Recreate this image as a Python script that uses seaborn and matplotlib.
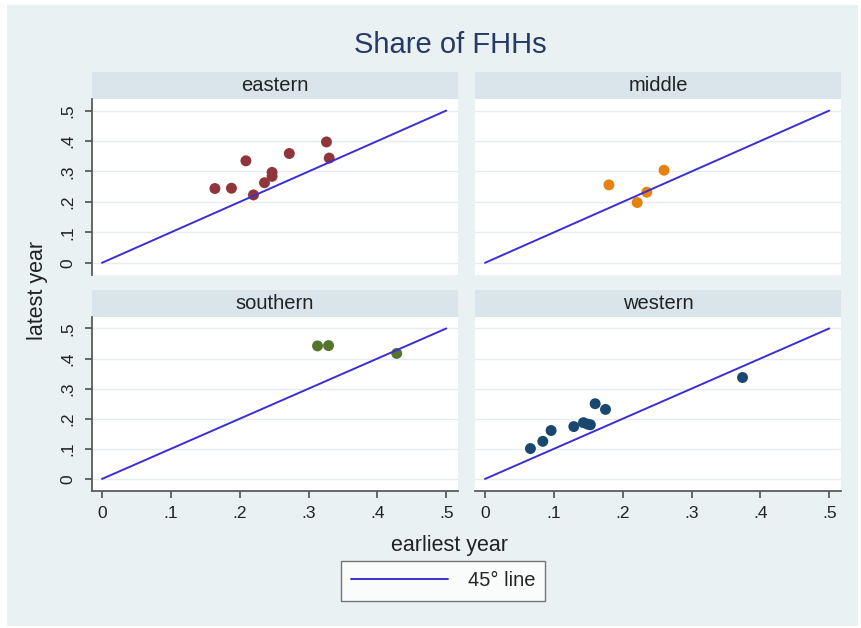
import numpy as np
import pandas as pd
import matplotlib
matplotlib.use("Agg")
import matplotlib.pyplot as plt
from matplotlib.patches import Rectangle
from matplotlib.lines import Line2D
import seaborn as sns

# Share of female-headed households, earliest vs latest survey year
regions = ["eastern", "middle", "southern", "western"]
eastern_x = [0.164, 0.188, 0.209, 0.220, 0.236, 0.247, 0.247, 0.272, 0.326, 0.330]
eastern_y = [0.244, 0.245, 0.335, 0.223, 0.263, 0.297, 0.284, 0.359, 0.397, 0.344]
middle_x = [0.180, 0.260, 0.235, 0.221]
middle_y = [0.256, 0.304, 0.232, 0.198]
southern_x = [0.313, 0.329, 0.428]
southern_y = [0.442, 0.443, 0.417]
western_x = [0.066, 0.084, 0.096, 0.129, 0.143, 0.149, 0.153, 0.160, 0.175, 0.374]
western_y = [0.101, 0.125, 0.161, 0.174, 0.187, 0.182, 0.180, 0.250, 0.231, 0.337]
line_ends = [0.0, 0.5]
tick_vals = [0, 0.1, 0.2, 0.3, 0.4, 0.5]
tick_labels = ["0", ".1", ".2", ".3", ".4", ".5"]

region_colors = {"eastern": "#90353B", "middle": "#E8820F",
                 "southern": "#55752F", "western": "#1A476F"}
line_color = "#3A2FD2"
bg = "#EAF1F3"
strip_bg = "#D9E5EA"
text_color = "#222222"

xs = {"eastern": eastern_x, "middle": middle_x, "southern": southern_x, "western": western_x}
ys = {"eastern": eastern_y, "middle": middle_y, "southern": southern_y, "western": western_y}
df = pd.concat([pd.DataFrame({"region": r, "earliest": xs[r], "latest": ys[r]}) for r in regions],
               ignore_index=True)

sns.set_theme(style="white")
plt.rcParams["font.family"] = ["Liberation Sans", "DejaVu Sans"]

g = sns.FacetGrid(df, col="region", col_order=regions, col_wrap=2, hue="region",
                  palette=region_colors, sharex=False, sharey=False)
g.map_dataframe(sns.scatterplot, x="earliest", y="latest", s=62, edgecolor="none", legend=False)
fig = g.figure
fig.set_size_inches(8.61, 6.28)
fig.set_dpi(100)
fig.patch.set_facecolor("white")

W, H = 861, 628
# tinted backdrop inside a thin white margin
fig.patches.append(Rectangle((7 / W, 2 / H), (858 - 7) / W, (623 - 2) / H,
                             transform=fig.transFigure, facecolor=bg, edgecolor="none", zorder=-10))

boxes = {"eastern": (92, 99, 458, 275), "middle": (475, 99, 841, 275),
         "southern": (92, 317, 458, 491), "western": (475, 317, 841, 491)}

for ax, r in zip(g.axes.flat, regions):
    x0, y0, x1, y1 = boxes[r]
    ax.set_position([x0 / W, (H - y1) / H, (x1 - x0) / W, (y1 - y0) / H])
    ax.set_facecolor("white")
    sns.lineplot(x=line_ends, y=line_ends, ax=ax, color=line_color, linewidth=1.4, legend=False)
    if ax.get_legend() is not None:
        ax.get_legend().remove()
    ax.set_xlim(-0.0145, 0.517)
    ax.set_ylim(-0.04, 0.538)
    ax.set_title("")
    ax.set_xlabel("")
    ax.set_ylabel("")
    ax.set_yticks(tick_vals)
    ax.set_xticks(tick_vals)
    for yv in tick_vals:
        ax.axhline(yv, color="#E6EDF0", linewidth=1.0, zorder=0)
    for s in ax.spines.values():
        s.set_visible(False)
    left = r in ("eastern", "southern")
    bottom = r in ("southern", "western")
    if left:
        ax.spines["left"].set_visible(True)
        ax.spines["left"].set_color("#555555")
        ax.set_yticklabels(tick_labels, rotation=90, va="center", fontsize=12.5, color=text_color)
        ax.tick_params(axis="y", left=True, length=5, color="#555555", pad=7)
    else:
        ax.set_yticklabels([])
        ax.tick_params(axis="y", left=False, length=0)
    if bottom:
        ax.spines["bottom"].set_visible(True)
        ax.spines["bottom"].set_color("#555555")
        ax.set_xticklabels(tick_labels, fontsize=12.5, color=text_color)
        ax.tick_params(axis="x", bottom=True, length=5, color="#555555", pad=6)
    else:
        ax.set_xticklabels([])
        ax.tick_params(axis="x", bottom=False, length=0)
    # strip header
    ax.add_patch(Rectangle((0, 1.0), 1.0, 27 / (y1 - y0), transform=ax.transAxes,
                           facecolor=strip_bg, edgecolor="none", clip_on=False))
    ax.text(0.5, 1.0 + 13.5 / (y1 - y0), r, transform=ax.transAxes,
            ha="center", va="center", fontsize=14.5, color=text_color)

fig.text(450 / W, 1 - 45 / H, "Share of FHHs", ha="center", va="center",
         fontsize=21, color="#263A66")
fig.text(38 / W, 1 - 290 / H, "latest year", rotation=90, ha="center", va="center",
         fontsize=15.5, color=text_color)
fig.text(449 / W, 1 - 545 / H, "earliest year", ha="center", va="center",
         fontsize=15.5, color=text_color)

handle = Line2D([], [], color=line_color, linewidth=1.4)
leg = fig.legend([handle], ["45\u00b0 line"], loc="center", bbox_to_anchor=(443 / W, 1 - 581 / H),
                 frameon=True, fancybox=False, fontsize=14.5, handlelength=4.8,
                 borderpad=0.5, handletextpad=1.0, borderaxespad=0)
leg.get_frame().set_edgecolor("#555555")
leg.get_frame().set_linewidth(1.0)
leg.get_frame().set_facecolor("white")

fig.savefig("out.png", dpi=100, facecolor="white")
